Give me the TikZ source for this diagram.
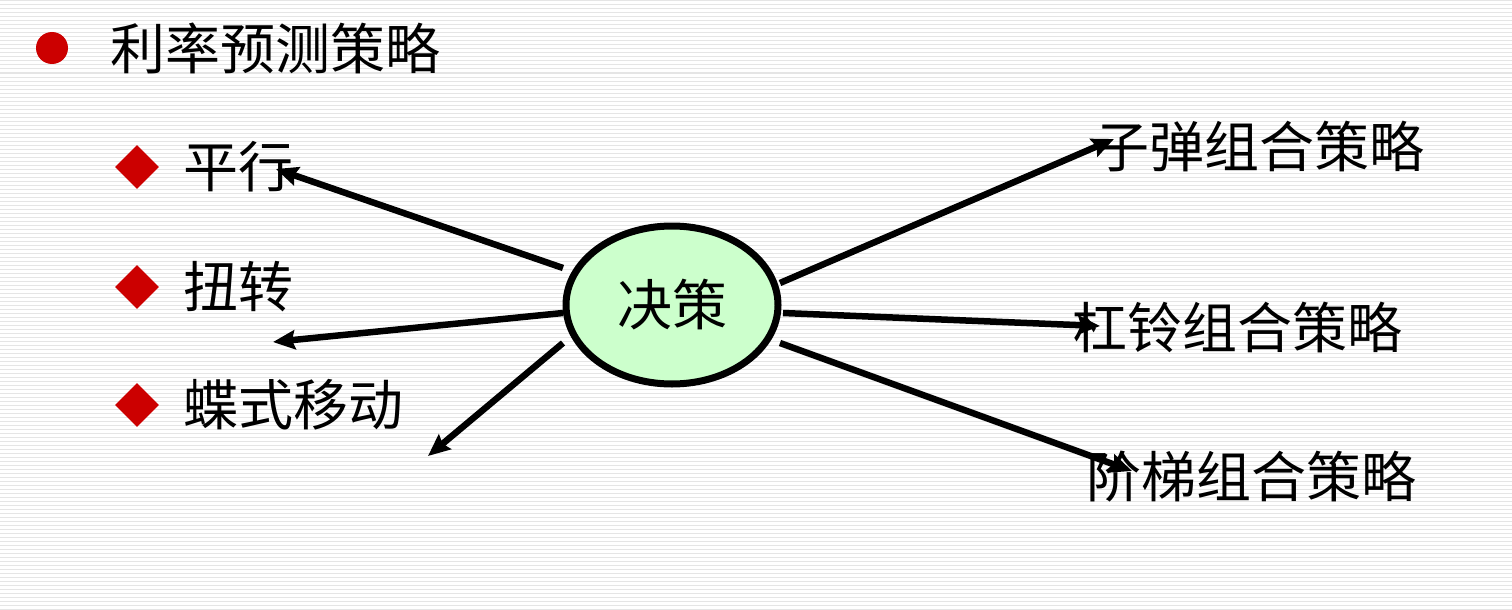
\documentclass[tikz,border=0pt]{standalone}
\usepackage{fontspec}
\newfontfamily\cjk{Noto Sans CJK SC}
\usetikzlibrary{shapes.geometric,arrows.meta}
\definecolor{bulletred}{HTML}{CC0000}
\definecolor{lightgreen}{HTML}{CCFFCC}
\begin{document}
\begin{tikzpicture}[x=1pt,y=-1pt,
  txt/.style={inner sep=0pt,anchor=west,font=\cjk\fontsize{55}{60}\selectfont},
  dia/.style={diamond,fill=bulletred,inner sep=0pt,minimum width=44pt,minimum height=44pt},
  conn/.style={line width=6.5pt,-{Stealth[length=22pt,width=19pt,inset=3pt]}}]
\useasboundingbox (0,0) rectangle (1512,610);
\fill[white] (0,0) rectangle (1512,610);
\foreach \y in {1,5,...,609} \draw[black!10,line width=1pt] (0,\y) -- (1512,\y);
% title
\node[circle,fill=bulletred,minimum size=32pt,inner sep=0pt] (b0) at (52,48) {};
\node[txt] (t0) at (110,48) {利率预测策略};
% left items
\node[dia] (b1) at (137,167) {};
\node[txt] (l1) at (183,167) {平行};
\node[dia] (b2) at (137,287) {};
\node[txt] (l2) at (183,287) {扭转};
\node[dia] (b3) at (137,405) {};
\node[txt] (l3) at (183,405) {蝶式移动};
% center
\node[ellipse,draw=black,line width=7pt,fill=lightgreen,minimum width=212pt,minimum height=158pt,inner sep=0pt,font=\cjk\fontsize{55}{60}\selectfont] (d) at (672,305) {决策};
% right items
\node[txt] (r1) at (1094,146) {子弹组合策略};
\node[txt] (r2) at (1072,327) {杠铃组合策略};
\node[txt] (r3) at (1086,477) {阶梯组合策略};
% connector endpoints
\coordinate (s1) at (563,268);
\coordinate (s2) at (563,313);
\coordinate (s3) at (563,343);
\coordinate (s4) at (780,283);
\coordinate (s5) at (783,313);
\coordinate (s6) at (780,343);
\coordinate (e1) at (276,169);
\coordinate (e2) at (273,342);
\coordinate (e3) at (428,456);
\coordinate (e4) at (1114,139);
\coordinate (e5) at (1100,326);
\coordinate (e6) at (1132,471);
\draw[conn] (s1) -- (e1);
\draw[conn] (s2) -- (e2);
\draw[conn] (s3) -- (e3);
\draw[conn] (s4) -- (e4);
\draw[conn] (s5) -- (e5);
\draw[conn] (s6) -- (e6);
\end{tikzpicture}
\end{document}
